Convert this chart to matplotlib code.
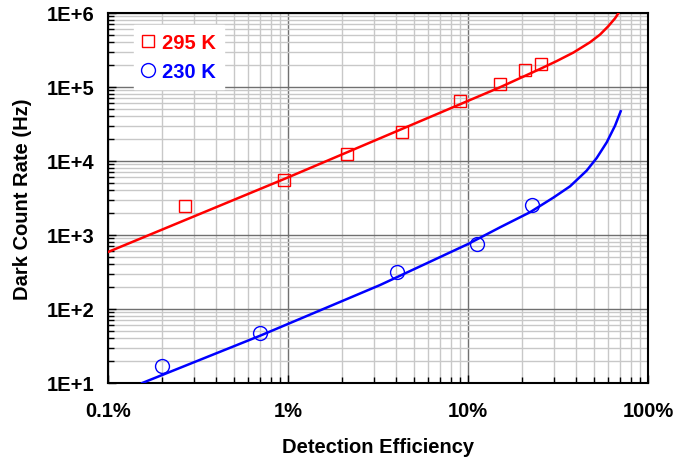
import matplotlib
matplotlib.use("Agg")
import matplotlib.pyplot as plt
from matplotlib.ticker import FixedLocator, LogLocator, NullFormatter
from matplotlib.lines import Line2D

plt.rcParams['font.family'] = ['Liberation Sans', 'DejaVu Sans']
plt.rcParams['font.weight'] = 'bold'

# Measured data (detection efficiency as fraction, dark count rate Hz)
eff_295 = [0.00268, 0.0095, 0.0213, 0.043, 0.0904, 0.1506, 0.2074, 0.2545]
dcr_295 = [2460, 5540, 12400, 24600, 64700, 110000, 170000, 204000]
eff_230 = [0.0020, 0.00698, 0.0403, 0.112, 0.227]
dcr_230 = [17, 47, 316, 756, 2540]

# Model curves
fit_eff_295 = [0.001, 0.01, 0.0325, 0.1005, 0.1507, 0.251, 0.311, 0.385, 0.476, 0.541,
               0.601, 0.656, 0.690]
fit_dcr_295 = [589, 6000, 20300, 65300, 99200, 175000, 224000, 292000, 402000, 510000,
               661000, 847000, 1.02e6]
fit_eff_230 = [0.00155, 0.00699, 0.0325, 0.1, 0.1507, 0.221, 0.298, 0.369, 0.456, 0.519,
               0.590, 0.656, 0.705]
fit_dcr_230 = [10, 43.5, 211, 755, 1270, 2030, 3200, 4550, 7400, 11000,
               17900, 30000, 47000]

xticks = [0.001, 0.01, 0.1, 1.0]
xticklabels = ['0.1%', '1%', '10%', '100%']
yticks = [1e1, 1e2, 1e3, 1e4, 1e5, 1e6]
yticklabels = ['1E+1', '1E+2', '1E+3', '1E+4', '1E+5', '1E+6']

fig = plt.figure(figsize=(6.75, 4.6), dpi=100)
ax = fig.add_axes([108/675, 1-384/460, 540/675, 370/460])
ax.set_xscale('log')
ax.set_yscale('log')
ax.set_xlim(0.001, 1.0)
ax.set_ylim(10, 1e6)

ax.grid(True, which='minor', color='#c8c8c8', linewidth=1.0, zorder=0)
ax.grid(True, which='major', color='#707070', linewidth=1.0, zorder=0)
ax.set_axisbelow(True)

ax.plot(fit_eff_295, fit_dcr_295, color='#ff0000', linewidth=1.8, zorder=3,
        solid_joinstyle='round')
ax.plot(fit_eff_230, fit_dcr_230, color='#0000ff', linewidth=1.8, zorder=3,
        solid_joinstyle='round')
ax.plot(eff_295, dcr_295, linestyle='none', marker='s', markersize=9, markerfacecolor='none',
        markeredgecolor='#ff0000', markeredgewidth=1.0, zorder=4)
ax.plot(eff_230, dcr_230, linestyle='none', marker='o', markersize=10, markerfacecolor='none',
        markeredgecolor='#0000ff', markeredgewidth=1.0, zorder=4)

ax.xaxis.set_major_locator(FixedLocator(xticks))
ax.set_xticklabels(xticklabels)
ax.yaxis.set_major_locator(FixedLocator(yticks))
ax.set_yticklabels(yticklabels)
ax.xaxis.set_minor_locator(LogLocator(base=10, subs=range(2, 10), numticks=20))
ax.yaxis.set_minor_locator(LogLocator(base=10, subs=range(2, 10), numticks=20))
ax.xaxis.set_minor_formatter(NullFormatter())
ax.yaxis.set_minor_formatter(NullFormatter())

ax.tick_params(which='both', direction='in', top=False, right=False, labelsize=14.5, colors='black')
ax.tick_params(which='major', length=6, width=1.0)
ax.tick_params(axis='x', which='major', pad=13)
ax.tick_params(axis='y', which='major', pad=10)
ax.tick_params(which='minor', length=4, width=1.0)
for lab in ax.get_xticklabels() + ax.get_yticklabels():
    lab.set_fontweight('bold')

for s in ax.spines.values():
    s.set_linewidth(1.5)
    s.set_color('black')

ax.set_xlabel('Detection Efficiency', fontsize=14.5, fontweight='bold', labelpad=12)
ax.set_ylabel('Dark Count Rate (Hz)', fontsize=14.5, fontweight='bold', labelpad=10)

handles = [
    Line2D([], [], linestyle='none', marker='s', markersize=9, markerfacecolor='none',
           markeredgecolor='#ff0000', markeredgewidth=1.0),
    Line2D([], [], linestyle='none', marker='o', markersize=10, markerfacecolor='none',
           markeredgecolor='#0000ff', markeredgewidth=1.0),
]
leg = ax.legend(handles, ['295 K', '230 K'], loc='upper left', bbox_to_anchor=(0.03, 0.995),
                frameon=True, fancybox=False, edgecolor='white', framealpha=1.0,
                prop={'size': 14.5, 'weight': 'bold'}, handlelength=0.6, handletextpad=0.4,
                labelspacing=0.5, borderpad=0.4)
for t, c in zip(leg.get_texts(), ['#ff0000', '#0000ff']):
    t.set_color(c)

fig.savefig('out.png', dpi=100)
